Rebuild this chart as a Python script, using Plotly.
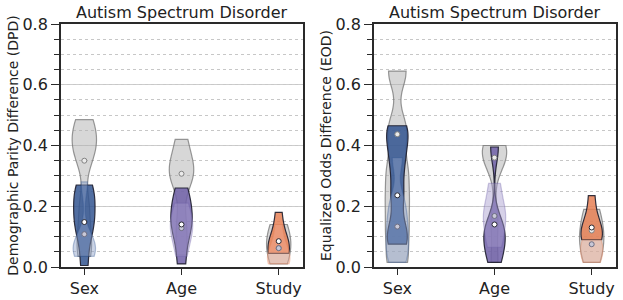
import plotly.graph_objects as go

categories = ["Sex", "Age", "Study"]

# DPD (left panel): values per violin group
dpd_grey = {"Sex": [0.035, 0.10, 0.20, 0.36, 0.40, 0.44, 0.485],
            "Age": [0.04, 0.14, 0.29, 0.31, 0.34, 0.42],
            "Study": [0.01, 0.06, 0.09, 0.14]}
dpd_dark = {"Sex": [0.005, 0.10, 0.14, 0.17, 0.21, 0.25, 0.27],
            "Age": [0.01, 0.10, 0.14, 0.17, 0.21, 0.26],
            "Study": [0.045, 0.055, 0.065, 0.08, 0.18]}
dpd_pale = {"Sex": [0.035, 0.05, 0.07, 0.09, 0.28],
            "Age": [0.035, 0.10, 0.13, 0.16, 0.21],
            "Study": [0.01, 0.02, 0.035, 0.05, 0.14]}
dpd_dots_grey = {"Sex": 0.35, "Age": 0.307, "Study": 0.062}
dpd_dots_dark = {"Sex": 0.148, "Age": 0.14, "Study": 0.085}
dpd_dots_pale = {"Sex": 0.108, "Age": 0.128, "Study": 0.062}

# EOD (right panel)
eod_grey = {"Sex": [0.015, 0.12, 0.22, 0.32, 0.45, 0.645],
            "Age": [0.015, 0.15, 0.35, 0.37, 0.39, 0.40],
            "Study": [0.015, 0.08, 0.12, 0.19]}
eod_dark = {"Sex": [0.075, 0.12, 0.236, 0.34, 0.42, 0.465],
            "Age": [0.015, 0.07, 0.11, 0.14, 0.395],
            "Study": [0.09, 0.10, 0.115, 0.13, 0.235]}
eod_pale = {"Sex": [0.015, 0.06, 0.11, 0.16, 0.22, 0.36],
            "Age": [0.065, 0.12, 0.168, 0.20, 0.275],
            "Study": [0.015, 0.04, 0.075, 0.09]}
eod_dots_grey = {"Sex": 0.437, "Age": 0.36, "Study": 0.12}
eod_dots_dark = {"Sex": 0.236, "Age": 0.14, "Study": 0.13}
eod_dots_pale = {"Sex": 0.133, "Age": 0.168, "Study": 0.075}

base_rgb = {"Sex": (50, 85, 145), "Age": (112, 96, 168), "Study": (230, 128, 85)}
pale_rgb = {"Sex": (140, 160, 200), "Age": (165, 152, 205), "Study": (245, 170, 145)}

fig = go.Figure()

def add_panel(xa, ya, grey, dark, pale, dg, dd, dp):
    for cat in categories:
        r, g, b = base_rgb[cat]
        pr, pg, pb = pale_rgb[cat]
        fig.add_trace(go.Violin(x=[cat] * len(grey[cat]), y=grey[cat], xaxis=xa, yaxis=ya,
                                spanmode="hard", bandwidth=0.055, width=0.25, scalemode="width",
                                points=False, fillcolor="rgba(175,175,175,0.5)",
                                line=dict(color="rgba(110,110,110,0.7)", width=1.2),
                                showlegend=False, hoverinfo="skip"))
        fig.add_trace(go.Violin(x=[cat] * len(dark[cat]), y=dark[cat], xaxis=xa, yaxis=ya,
                                spanmode="hard", bandwidth=0.05, width=0.22, scalemode="width",
                                points=False, fillcolor=f"rgba({r},{g},{b},0.85)",
                                line=dict(color="rgba(30,30,45,0.9)", width=1.2),
                                showlegend=False, hoverinfo="skip"))
        fig.add_trace(go.Violin(x=[cat] * len(pale[cat]), y=pale[cat], xaxis=xa, yaxis=ya,
                                spanmode="hard", bandwidth=0.045, width=0.23, scalemode="width",
                                points=False, fillcolor=f"rgba({pr},{pg},{pb},0.45)",
                                line=dict(color=f"rgba({r},{g},{b},0.35)", width=1.2),
                                showlegend=False, hoverinfo="skip"))
    for dots, fill, edge in [(dg, "rgba(235,235,235,1)", "rgb(130,130,130)"),
                             (dp, "rgba(200,200,215,1)", "rgb(110,110,130)"),
                             (dd, "white", "rgb(40,40,50)")]:
        fig.add_trace(go.Scatter(x=categories, y=[dots[c] for c in categories], xaxis=xa, yaxis=ya,
                                 mode="markers", marker=dict(size=5, color=fill, line=dict(color=edge, width=1)),
                                 showlegend=False, hoverinfo="skip"))

add_panel("x", "y", dpd_grey, dpd_dark, dpd_pale, dpd_dots_grey, dpd_dots_dark, dpd_dots_pale)
add_panel("x2", "y2", eod_grey, eod_dark, eod_pale, eod_dots_grey, eod_dots_dark, eod_dots_pale)

font = "DejaVu Sans"
xcommon = dict(type="category", categoryorder="array", categoryarray=categories, automargin=False,
               range=[-0.24, 2.25], showline=True, linecolor="#2a2a2a", linewidth=1.8, mirror=True,
               ticks="outside", ticklen=6, tickwidth=1.4, tickcolor="#2a2a2a",
               tickfont=dict(family=font, size=16, color="#222"), showgrid=False, zeroline=False)
ycommon = dict(range=[0, 0.8], tickvals=[0, 0.2, 0.4, 0.6, 0.8], ticktext=["0.0", "0.2", "0.4", "0.6", "0.8"],
               automargin=False,
               showline=True, linecolor="#2a2a2a", linewidth=1.8, mirror=True,
               ticks="outside", ticklen=8, tickwidth=1.4, tickcolor="#2a2a2a",
               tickfont=dict(family=font, size=16, color="#222"),
               showgrid=True, gridcolor="rgba(200,200,200,0.9)", gridwidth=1.3, zeroline=False,
               minor=dict(dtick=0.05, tick0=0, ticks="outside", ticklen=5, tickwidth=1.1, tickcolor="#2a2a2a",
                          showgrid=True, gridcolor="rgba(185,185,185,0.8)", griddash="dot", gridwidth=0.8))

fig.update_layout(
    template="none",
    width=623, height=300, margin=dict(l=0, r=0, t=0, b=0, autoexpand=False),
    paper_bgcolor="white", plot_bgcolor="white", violinmode="overlay",
    xaxis=dict(domain=[61 / 623, 303 / 623], anchor="y", **xcommon),
    yaxis=dict(domain=[1 - 267 / 300, 1 - 24 / 300], anchor="x",
               title=dict(text="Demographic Parity Difference (DPD)", font=dict(family=font, size=14, color="#222"), standoff=1),
               **ycommon),
    xaxis2=dict(domain=[374 / 623, 616 / 623], anchor="y2", **xcommon),
    yaxis2=dict(domain=[1 - 267 / 300, 1 - 24 / 300], anchor="x2",
                title=dict(text="Equalized Odds Difference (EOD)", font=dict(family=font, size=14, color="#222"), standoff=1),
                **ycommon),
    annotations=[
        dict(text="Autism Spectrum Disorder", x=(61 + 303) / 2 / 623, y=1 - 12 / 300, xref="paper", yref="paper",
             showarrow=False, font=dict(family=font, size=16, color="#222"), xanchor="center", yanchor="middle"),
        dict(text="Autism Spectrum Disorder", x=(374 + 616) / 2 / 623, y=1 - 12 / 300, xref="paper", yref="paper",
             showarrow=False, font=dict(family=font, size=16, color="#222"), xanchor="center", yanchor="middle"),
    ],
)

fig.write_html("out.html", config={"displayModeBar": False},
               post_script="document.body.style.margin='0';document.body.style.overflow='hidden';")
